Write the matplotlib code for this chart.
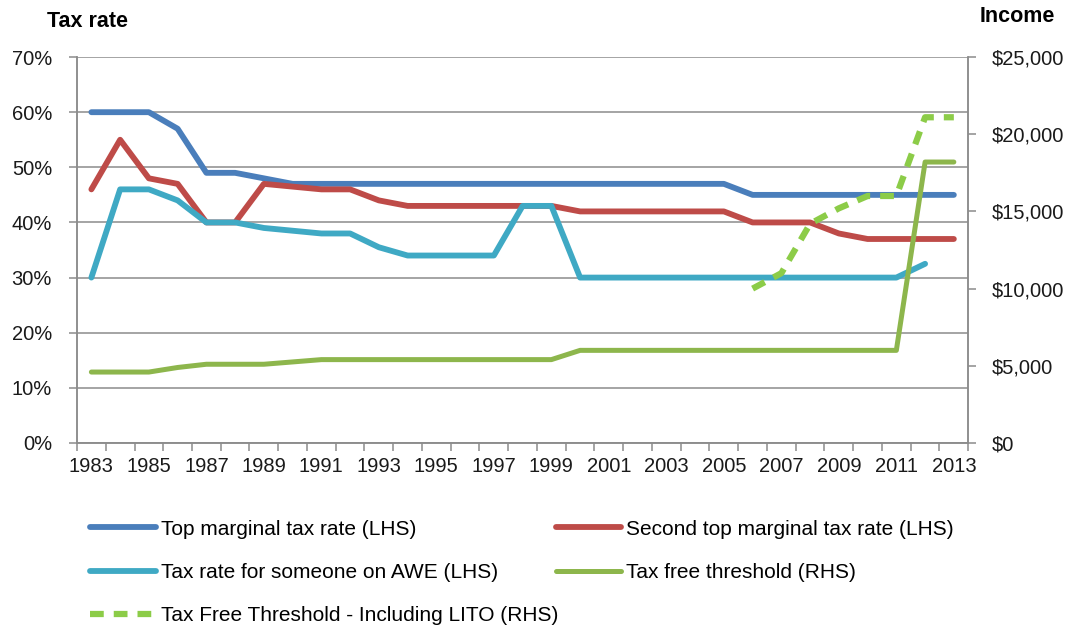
import matplotlib
matplotlib.use("Agg")
import matplotlib.pyplot as plt
import numpy as np

# data
years = list(range(1983, 2014))
topRate = [60, 60, 60, 57, 49, 49, 48, 47, 47, 47, 47, 47, 47, 47, 47, 47, 47,
           47, 47, 47, 47, 47, 47, 45, 45, 45, 45, 45, 45, 45, 45]
secondRate = [46, 55, 48, 47, 40, 40, 47, 46.5, 46, 46, 44, 43, 43, 43, 43, 43, 43,
              42, 42, 42, 42, 42, 42, 40, 40, 40, 38, 37, 37, 37, 37]
aweRate = [30, 46, 46, 44, 40, 40, 39, 38.5, 38, 38, 35.5, 34, 34, 34, 34, 43, 43,
           30, 30, 30, 30, 30, 30, 30, 30, 30, 30, 30, 30, 32.5, np.nan]
taxFree = [4595, 4595, 4595, 4890, 5100, 5100, 5100, 5250, 5400, 5400, 5400, 5400,
           5400, 5400, 5400, 5400, 5400, 6000, 6000, 6000, 6000, 6000, 6000, 6000,
           6000, 6000, 6000, 6000, 6000, 18200, 18200]
litoYears = list(range(2006, 2014))
taxFreeLito = [10000, 11000, 14200, 15200, 16000, 16000, 21100, 21100]

plt.rcParams['font.family'] = ['Liberation Sans', 'DejaVu Sans']

fig = plt.figure(figsize=(10.77, 6.27), dpi=100)
ax = fig.add_axes([0.0715, 0.2935, 0.8275, 0.6155])
ax2 = ax.twinx()

x = np.arange(len(years))
xl = [years.index(y) for y in litoYears]

l1, = ax.plot(x, topRate, color="#4A7EBB", lw=4.2, solid_capstyle="round")
l2, = ax.plot(x, secondRate, color="#BE4B48", lw=4.2, solid_capstyle="round")
l3, = ax.plot(x, aweRate, color="#3FA9C4", lw=4.2, solid_capstyle="round")
l4, = ax2.plot(x, taxFree, color="#8DB64C", lw=3.6, solid_capstyle="round")
l5, = ax2.plot(xl, taxFreeLito, color="#8CCC48", lw=4.5, ls=(0, (2.2, 1.6)))

ax.set_ylim(0, 70)
ax2.set_ylim(0, 25000)
ax.set_xlim(-0.5, len(years) - 0.5)

ax.set_yticks(range(0, 71, 10))
ax.set_yticklabels([f"{v}%" for v in range(0, 71, 10)])
ax2.set_yticks(range(0, 25001, 5000))
ax2.set_yticklabels(["$0"] + [f"${v:,}" for v in range(5000, 25001, 5000)])

ax.set_xticks(x[::2])
ax.set_xticklabels([str(y) for y in years[::2]])
ax.set_xticks(np.arange(-0.5, len(years)), minor=True)

ax.grid(axis="y", color="#8c8c8c", lw=1.1)
ax.set_axisbelow(True)
for a in (ax, ax2):
    for s in a.spines.values():
        s.set_color("#8c8c8c")
        s.set_linewidth(1.1)
    a.spines["top"].set_visible(False)
ax.tick_params(axis="x", which="major", length=0, labelsize=14.5, pad=10, colors="#1a1a1a")
ax.tick_params(axis="x", which="minor", length=6, color="#8c8c8c", width=1.1)
ax.tick_params(axis="y", length=6, color="#8c8c8c", width=1.1, labelsize=14.5, pad=12,
               labelcolor="#1a1a1a")
ax2.tick_params(axis="y", length=6, color="#8c8c8c", width=1.1, labelsize=14.5, pad=11,
                labelcolor="#1a1a1a")

fig.text(0.044, 0.966, "Tax rate", fontsize=15.5, fontweight="bold", va="center")
fig.text(0.910, 0.973, "Income", fontsize=15.5, fontweight="bold", va="center")

# legend in two columns, placed separately
legKw = dict(loc="upper left", frameon=False, handlelength=3.15, handletextpad=0.25,
             labelspacing=1.17, prop={'family': ['Liberation Sans', 'DejaVu Sans'], 'size': 15})
leg1 = fig.legend([l1, l3, l5], ["Top marginal tax rate (LHS)", "Tax rate for someone on AWE (LHS)",
                                 "Tax Free Threshold - Including LITO (RHS)"],
                  bbox_to_anchor=(0.0665, 0.201), **legKw)
leg2 = fig.legend([l2, l4], ["Second top marginal tax rate (LHS)", "Tax free threshold (RHS)"],
                  bbox_to_anchor=(0.4985, 0.201), **legKw)

fig.savefig("out.png", dpi=100)
